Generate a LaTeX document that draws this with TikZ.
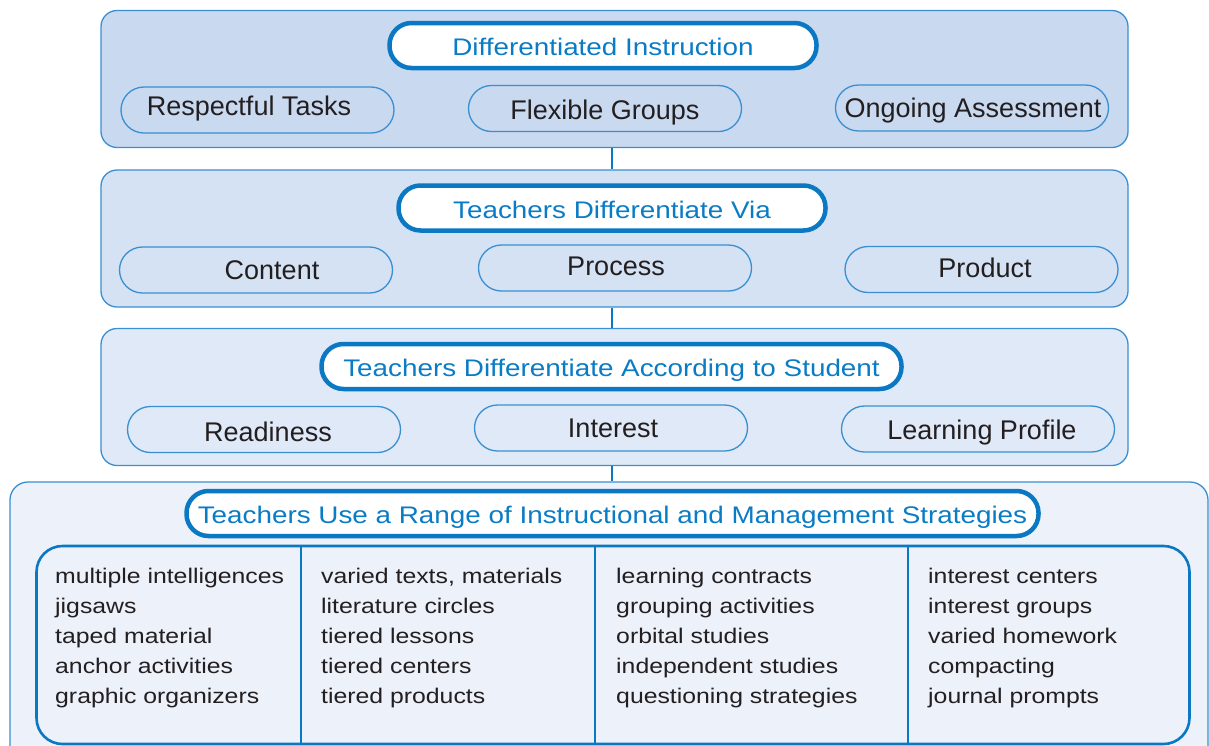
\documentclass[tikz,border=0pt]{standalone}
\usepackage{fontspec}
\setmainfont{Liberation Sans}
\newfontfamily\widefont[FakeStretch=1.17]{Liberation Sans}
\newfontfamily\titlefont[FakeStretch=1.16]{Liberation Sans}
\definecolor{bordblue}{HTML}{3A8FD0}
\definecolor{titleblue}{HTML}{0A78C2}
\definecolor{ttext}{HTML}{0A7CC6}
\definecolor{dtext}{HTML}{231F20}
\definecolor{fillA}{HTML}{C9D9F0}
\definecolor{fillB}{HTML}{D4E2F4}
\definecolor{fillC}{HTML}{DFE9F7}
\definecolor{fillD}{HTML}{ECF1FA}
\tikzset{
  panel/.style={draw=bordblue, line width=1.3pt, rounded corners=16pt, minimum width=1027pt, minimum height=137pt, inner sep=0pt},
  titlebox/.style={draw=titleblue, fill=white, line width=4.5pt, rounded corners=22pt, minimum height=45pt, inner sep=0pt, text=ttext, font=\titlefont\fontsize{24}{28}\selectfont, text height=20pt, text depth=0pt},
  item/.style={draw=bordblue, line width=1.3pt, rounded corners=23pt, minimum width=273pt, minimum height=46pt, inner sep=0pt},
  itemtext/.style={inner sep=0pt, text=dtext, font=\fontsize{27}{30}\selectfont, text height=19.3pt, text depth=0pt},
  listtext/.style={anchor=base west, align=left, inner sep=0pt, text=dtext, font=\widefont\fontsize{21.2}{30}\selectfont},
  conn/.style={draw=titleblue, line width=2.6pt},
  divider/.style={draw=titleblue, line width=1.2pt}
}
\begin{document}
\begin{tikzpicture}[x=1pt,y=-1pt]
\useasboundingbox (0,0) rectangle (1209,745);
\begin{scope}
\clip (0,0) rectangle (1209,745);
% panels
\node[panel, fill=fillA] (p1) at (614.5,79) {};
\node[panel, fill=fillB] (p2) at (614.5,238.5) {};
\node[panel, fill=fillC] (p3) at (614.5,397) {};
\node[panel, fill=fillD, minimum width=1198pt, minimum height=300pt, rounded corners=18pt] (p4) at (609,632) {};
% connectors
\draw[conn] (p1.south -| 612,0) -- (p2.north -| 612,0);
\draw[conn] (p2.south -| 612,0) -- (p3.north -| 612,0);
\draw[conn] (p3.south -| 612,0) -- (p4.north -| 612,0);
% titles
\node[titlebox, minimum width=427pt] (t1) at (603,45.5) {Differentiated Instruction};
\node[titlebox, minimum width=427pt] (t2) at (612,208) {Teachers Differentiate Via};
\node[titlebox, minimum width=580pt] (t3) at (611.5,366.5) {Teachers Differentiate According to Student};
\node[titlebox, minimum width=852pt] (t4) at (612.5,513.5) {Teachers Use a Range of Instructional and Management Strategies};
% items
\node[item] (a1) at (257.5,110) {};
\node[item] (a2) at (605,108.5) {};
\node[item] (a3) at (972,108) {};
\node[item] (b1) at (256,270) {};
\node[item] (b2) at (615,268) {};
\node[item] (b3) at (981.5,269.5) {};
\node[item] (c1) at (264,429.5) {};
\node[item] (c2) at (611,428) {};
\node[item] (c3) at (978,429) {};
\node[itemtext] (a1t) at (249,106) {Respectful Tasks};
\node[itemtext] (a2t) at (605,110) {Flexible Groups};
\node[itemtext] (a3t) at (973,108) {Ongoing Assessment};
\node[itemtext] (b1t) at (272,270) {Content};
\node[itemtext] (b2t) at (616,266) {Process};
\node[itemtext] (b3t) at (985,268) {Product};
\node[itemtext] (c1t) at (268,432) {Readiness};
\node[itemtext] (c2t) at (613,428) {Interest};
\node[itemtext] (c3t) at (982,430) {Learning Profile};
% strategies box
\node[draw=titleblue, line width=2.6pt, rounded corners=26pt, minimum width=1153pt, minimum height=198pt, inner sep=0pt] (sb) at (613,645) {};
\draw[divider] (301,0 |- sb.north) -- (301,0 |- sb.south);
\draw[divider] (595,0 |- sb.north) -- (595,0 |- sb.south);
\draw[divider] (908,0 |- sb.north) -- (908,0 |- sb.south);
\node[listtext] (l1) at (55,703) {multiple intelligences\\jigsaws\\taped material\\anchor activities\\graphic organizers};
\node[listtext] (l2) at (321,703) {varied texts, materials\\literature circles\\tiered lessons\\tiered centers\\tiered products};
\node[listtext] (l3) at (616,703) {learning contracts\\grouping activities\\orbital studies\\independent studies\\questioning strategies};
\node[listtext] (l4) at (928,703) {interest centers\\interest groups\\varied homework\\compacting\\journal prompts};
\end{scope}
\end{tikzpicture}
\end{document}
